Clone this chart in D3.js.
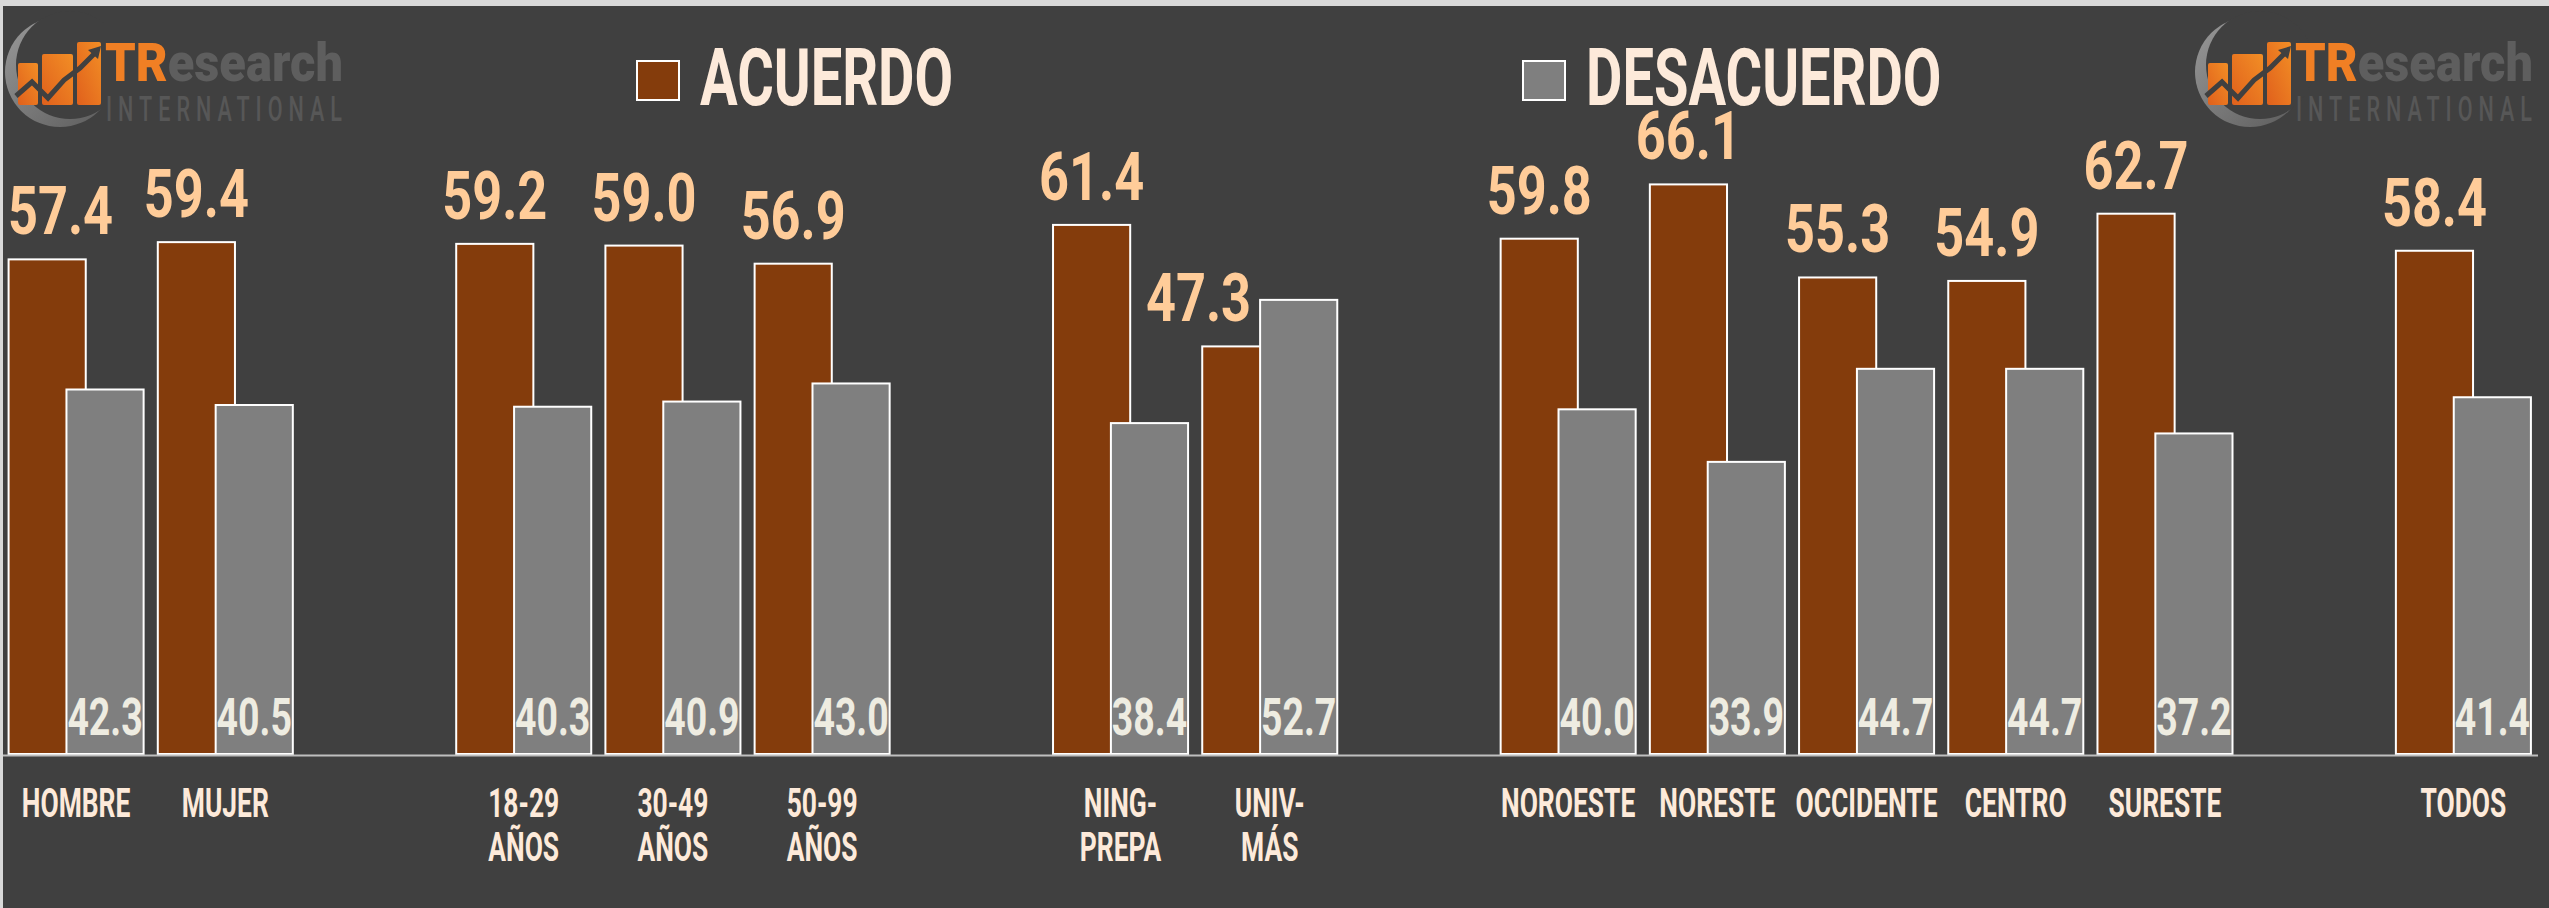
<!DOCTYPE html>
<html lang="es">
<meta charset="UTF-8">

<head>
    <title>Acuerdo / Desacuerdo</title>
    <script src="https://d3js.org/d3.v7.min.js"></script>
    <style>
        body { margin: 0; background: #404040; overflow: hidden; }
        text { font-family: Roboto, "DejaVu Sans", sans-serif; }
    </style>
</head>

<body>
    <div id="plot"></div>

    <script>
        // datos
        var categorias = ["HOMBRE", "MUJER", "18-29\nAÑOS", "30-49\nAÑOS", "50-99\nAÑOS",
            "NING-\nPREPA", "UNIV-\nMÁS", "NOROESTE", "NORESTE", "OCCIDENTE", "CENTRO", "SURESTE", "TODOS"];
        var grupos = [0, 0, 1, 1, 1, 2, 2, 3, 3, 3, 3, 3, 4];
        var acuerdo = [57.4, 59.4, 59.2, 59.0, 56.9, 61.4, 47.3, 59.8, 66.1, 55.3, 54.9, 62.7, 58.4];
        var desacuerdo = [42.3, 40.5, 40.3, 40.9, 43.0, 38.4, 52.7, 40.0, 33.9, 44.7, 44.7, 37.2, 41.4];
        var series = ["ACUERDO", "DESACUERDO"];

        var width = 2549,
            height = 908;

        var colAcuerdo = "#843C0C",
            colDesacuerdo = "#7F7F7F",
            colFondo = "#404040";

        var svg = d3.select('#plot').append('svg')
            .attr('width', width)
            .attr('height', height);

        // marco
        svg.append("rect").attr("x", 0).attr("y", 0).attr("width", width).attr("height", height).attr("fill", "#d9d9d9");
        svg.append("rect").attr("x", 3).attr("y", 6).attr("width", width - 3).attr("height", height - 6).attr("fill", colFondo);

        // slots: un hueco entre grupos
        var slots = [];
        var filas = [];
        categorias.forEach(function (c, i) {
            if (i > 0 && grupos[i] != grupos[i - 1]) {
                slots.push("hueco" + i);
            }
            slots.push("c" + i);
            filas.push({ slot: "c" + i, cat: c, a: acuerdo[i], d: desacuerdo[i] });
        });

        var x = d3.scaleBand()
            .domain(slots)
            .range([1.5, 2538])
            .paddingInner(0.095)
            .paddingOuter(0.0475);

        var y = d3.scaleLinear()
            .domain([0, 87.5])
            .range([754, 0]);

        var w = x.bandwidth() / 1.75;

        // texto condensado: se mide y se comprime con textLength
        function texto(g, px, py, txt, size, sx, color, anchor, weight) {
            var t = g.append("text")
                .attr("x", px)
                .attr("y", py)
                .attr("text-anchor", anchor || "middle")
                .attr("font-size", size)
                .attr("font-weight", weight || 700)
                .attr("fill", color)
                .text(txt);
            var len = t.node().getComputedTextLength();
            t.attr("textLength", len * sx).attr("lengthAdjust", "spacingAndGlyphs");
            t.datum({ len: len * sx });
            return t;
        }

        var chart = svg.append("g");

        // barras acuerdo
        chart.selectAll(".bar-a")
            .data(filas)
            .join("rect")
            .attr("class", "bar-a")
            .attr("x", d => x(d.slot))
            .attr("y", d => y(d.a))
            .attr("width", w)
            .attr("height", d => y(0) - y(d.a))
            .attr("fill", colAcuerdo)
            .attr("stroke", "white")
            .attr("stroke-width", 2);

        // barras desacuerdo (encima, con solapamiento)
        chart.selectAll(".bar-d")
            .data(filas)
            .join("rect")
            .attr("class", "bar-d")
            .attr("x", d => x(d.slot) + 0.75 * w)
            .attr("y", d => y(d.d))
            .attr("width", w)
            .attr("height", d => y(0) - y(d.d))
            .attr("fill", colDesacuerdo)
            .attr("stroke", "white")
            .attr("stroke-width", 2);

        // eje
        chart.append("line")
            .attr("x1", 3).attr("x2", x.range()[1])
            .attr("y1", y(0) + 1.5).attr("y2", y(0) + 1.5)
            .attr("stroke", "#bfbfbf")
            .attr("stroke-width", 2);

        // etiquetas acuerdo
        filas.forEach(function (d) {
            var cx = x(d.slot) + w / 2;
            var t = texto(chart, cx, y(d.a) - 25, d.a.toFixed(1), 67, 0.78, "#FFCC99");
            var half = t.datum().len / 2;
            if (cx - half < 8) {
                t.attr("x", 8 + half);
            }
            // si la barra gris tapa la etiqueta, se corre a la izquierda
            var grisX = x(d.slot) + 0.75 * w;
            if (y(d.d) < y(d.a) - 25 && cx + half > grisX - 9) {
                t.attr("x", grisX - 9 - half);
            }
        });

        // etiquetas desacuerdo
        filas.forEach(function (d) {
            texto(chart, x(d.slot) + 1.25 * w, y(0) - 19, d.d.toFixed(1), 52, 0.72, "#EEECE1");
        });

        // categorias
        filas.forEach(function (d) {
            var lineas = d.cat.split("\n");
            lineas.forEach(function (l, j) {
                texto(chart, x(d.slot) + x.bandwidth() / 2, 817 + j * 44, l, 40, 0.66, "#FDEADA");
            });
        });

        // leyenda
        var leyenda = svg.append("g");
        var legPos = [637, 1523];
        series.forEach(function (s, i) {
            leyenda.append("rect")
                .attr("x", legPos[i]).attr("y", 61)
                .attr("width", 42).attr("height", 39)
                .attr("fill", i == 0 ? colAcuerdo : colDesacuerdo)
                .attr("stroke", "white")
                .attr("stroke-width", 2);
            texto(leyenda, legPos[i] + 63, 105, s, 80, 0.7, "#FDEADA", "start");
        });

        // logos
        var defs = svg.append("defs");
        var gradGris = defs.append("linearGradient").attr("id", "gradGris")
            .attr("x1", "0").attr("y1", "0").attr("x2", "1").attr("y2", "1");
        gradGris.append("stop").attr("offset", "0").attr("stop-color", "#9a9a9a");
        gradGris.append("stop").attr("offset", "1").attr("stop-color", "#5a5a5a");
        var gradNaranja = defs.append("linearGradient").attr("id", "gradNaranja")
            .attr("x1", "0").attr("y1", "1").attr("x2", "1").attr("y2", "0");
        gradNaranja.append("stop").attr("offset", "0").attr("stop-color", "#e0601c");
        gradNaranja.append("stop").attr("offset", "1").attr("stop-color", "#f28e25");

        function logo(px) {
            var g = svg.append("g").attr("transform", "translate(" + px + ",0)");
            g.append("circle").attr("cx", 60).attr("cy", 72).attr("r", 55).attr("fill", "url(#gradGris)");
            g.append("circle").attr("cx", 70).attr("cy", 65).attr("r", 54).attr("fill", colFondo);
            // icono
            var barras = [[18, 63, 20, 42], [42, 54, 31, 51], [77, 42, 24, 63]];
            barras.forEach(function (b) {
                g.append("rect").attr("x", b[0]).attr("y", b[1]).attr("width", b[2]).attr("height", b[3])
                    .attr("rx", 2).attr("fill", "url(#gradNaranja)");
            });
            g.append("polyline")
                .attr("points", "16,96 32,82 48,98 64,80 80,68 96,52")
                .attr("fill", "none")
                .attr("stroke", colFondo)
                .attr("stroke-width", 5);
            g.append("path").attr("d", "M88,50 L101,46 L98,59 Z").attr("fill", colFondo);
            // texto
            var t = g.append("text")
                .attr("x", 105)
                .attr("y", 81)
                .attr("font-size", 54)
                .attr("font-weight", 900)
                .attr("textLength", 238)
                .attr("lengthAdjust", "spacingAndGlyphs");
            t.append("tspan").attr("fill", "#F07F24").text("TR");
            t.append("tspan").attr("fill", "#5e5e5e").text("esearch");
            g.append("text")
                .attr("x", 106)
                .attr("y", 121)
                .attr("font-size", 36)
                .attr("font-weight", 500)
                .attr("textLength", 236)
                .attr("lengthAdjust", "spacing")
                .attr("fill", "#575757")
                .text("INTERNATIONAL")
                .attr("transform", "translate(42,0) scale(0.6,1)")
                .attr("textLength", 236 / 0.6)
                .attr("x", 106 / 0.6 - 70);
        }
        logo(0);
        logo(2190);
    </script>

</body>

</html>
